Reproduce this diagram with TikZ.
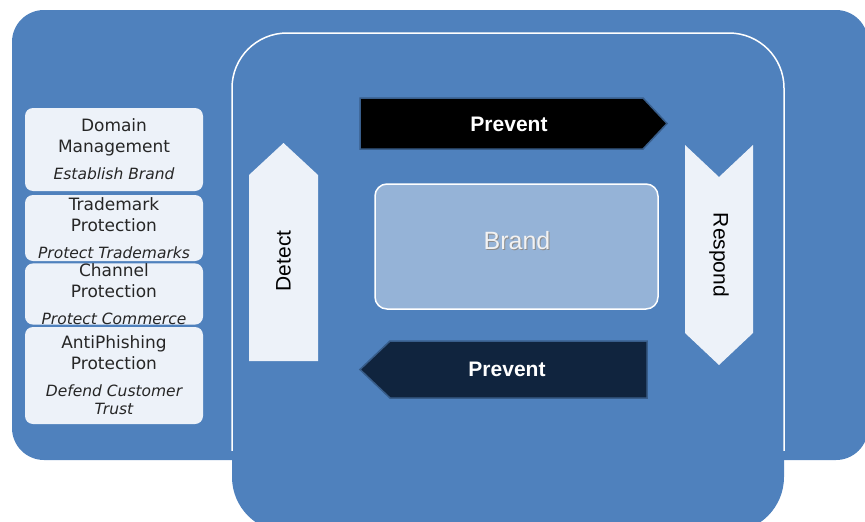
\documentclass[tikz,border=0pt]{standalone}
\usepackage{fontspec}
\setmainfont{Liberation Sans}
\newfontfamily\boxfont{DejaVu Sans}
\newcommand{\sideital}{\fontsize{15.5}{18}\selectfont\itshape}
\usepackage{tikz}
\definecolor{mainblue}{HTML}{4F81BD}
\definecolor{lightfill}{HTML}{EDF2F9}
\definecolor{brandfill}{HTML}{95B3D7}
\definecolor{darknavy}{HTML}{10243E}
\definecolor{edgeblue}{HTML}{385D8A}
\begin{document}
\begin{tikzpicture}[x=1pt, y=-1pt,
    sidebox/.style={fill=lightfill, rounded corners=8pt, minimum width=178pt, inner sep=0pt, align=center, text=black!85, font=\boxfont\fontsize{17}{21}\selectfont},
    arrowlbl/.style={text=white, font=\bfseries\fontsize{21}{24}\selectfont},
    sidelbl/.style={text=black, font=\fontsize{21}{24}\selectfont},
    brandbox/.style={fill=brandfill, draw=white, line width=1.5pt, rounded corners=12pt, minimum width=283pt, minimum height=125pt}]
    \useasboundingbox (0,0) rectangle (865,522);
    \fill[mainblue, rounded corners=32pt] (12,10) rectangle (868,460);
    \fill[mainblue, rounded corners=55pt] (232,33) rectangle (784,532);
    \begin{scope}
        \clip (0,0) rectangle (865,450);
        \draw[white, line width=1.5pt, rounded corners=55pt] (232,33) rectangle (784,532);
    \end{scope}
    \node[sidebox, minimum height=83pt] (domain) at (114,149.5) {Domain\\Management\\[6pt]{\sideital Establish Brand}};
    \node[sidebox, minimum height=66pt] (trademark) at (114,228) {Trademark\\Protection\\[6pt]{\sideital Protect Trademarks}};
    \node[sidebox, minimum height=60pt] (channel) at (114,294) {Channel\\Protection\\[6pt]{\sideital Protect Commerce}};
    \node[sidebox, minimum height=97pt] (phishing) at (114,375.5) {AntiPhishing\\Protection\\[6pt]{\sideital Defend Customer}\\[-3pt]{\sideital Trust}};
    \filldraw[fill=black, draw=edgeblue, line width=1.5pt] (360,98) -- (643,98) -- (667,123.5) -- (643,149) -- (360,149) -- cycle;
    \node[arrowlbl] (preventtop) at (509,124.5) {Prevent};
    \fill[lightfill] (249,361) -- (249,175) -- (283.5,143) -- (318,175) -- (318,361) -- cycle;
    \node[sidelbl, rotate=90] (detect) at (283.5,261) {Detect};
    \fill[lightfill] (685,145) -- (719,177) -- (753,145) -- (753,333) -- (719,365) -- (685,333) -- cycle;
    \node[sidelbl, rotate=-90] (respond) at (719,255) {Respond};
    \filldraw[fill=darknavy, draw=edgeblue, line width=1.5pt] (647,341) -- (390,341) -- (360,369.5) -- (390,398) -- (647,398) -- cycle;
    \node[arrowlbl] (preventbot) at (507,369) {Prevent};
    \node[brandbox] (brand) at (516.5,246.5) {};
    \node[text=black!45, font=\fontsize{25}{28}\selectfont] (brandshadow) at (518,242) {Brand};
    \node[text=white!95!black, font=\fontsize{25}{28}\selectfont] (brandlbl) at (517,241) {Brand};
\end{tikzpicture}
\end{document}
